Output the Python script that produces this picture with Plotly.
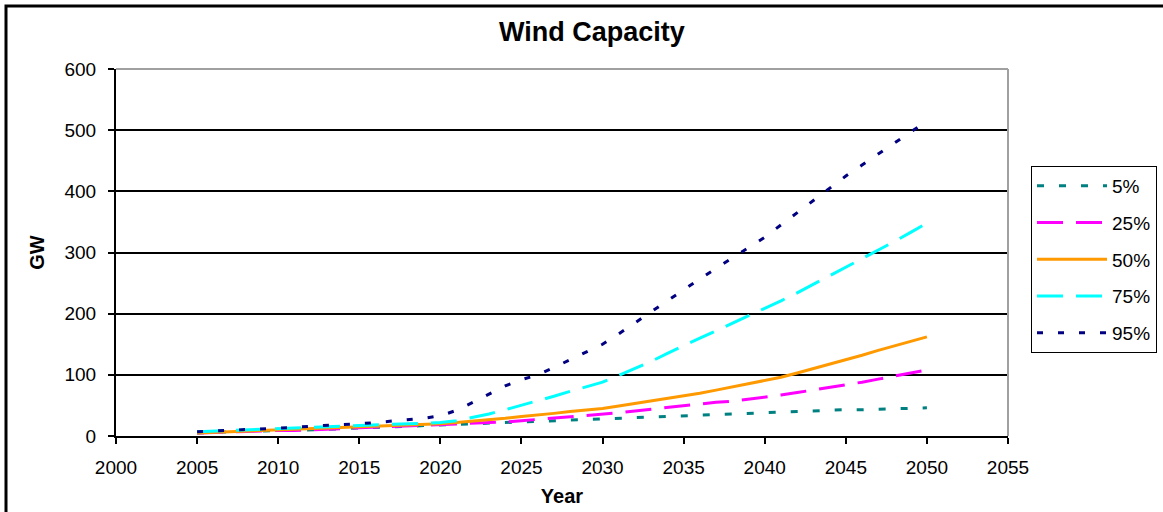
import plotly.graph_objects as go

years = list(range(2005, 2051))

p5 = [5, 6, 6, 7, 8, 9, 9, 10, 11, 11, 12, 13, 14, 15, 16, 17, 18, 19, 20, 21,
      22, 23, 24, 25, 27, 28, 29, 30, 31, 32, 33, 34, 35, 36, 37, 38, 39, 40, 41, 42,
      43, 43, 44, 45, 45, 46]
p25 = [5, 6, 6, 7, 8, 9, 9, 10, 11, 12, 13, 14, 15, 16, 17, 18, 19, 20, 22, 23,
       25, 27, 29, 31, 33, 35, 38, 41, 44, 47, 50, 52, 55, 57, 60, 63, 67, 71, 75, 79,
       83, 88, 93, 98, 103, 108]
p50 = [5, 6, 7, 8, 8, 9, 10, 11, 12, 13, 14, 15, 16, 17, 18, 20, 22, 24, 26, 29,
       32, 34, 37, 40, 42, 45, 49, 53, 57, 61, 65, 70, 75, 80, 85, 90, 96, 103, 110, 118,
       125, 132, 140, 147, 155, 162]
p75 = [7, 8, 9, 10, 11, 12, 13, 14, 15, 16, 17, 18, 19, 20, 21, 22, 25, 30, 36, 43,
       50, 57, 65, 73, 80, 88, 99, 110, 122, 135, 148, 160, 172, 184, 196, 208, 221, 234, 248, 261,
       275, 289, 303, 318, 333, 348]
p95 = [7, 8, 9, 11, 12, 13, 14, 16, 17, 19, 20, 22, 24, 26, 29, 33, 42, 55, 68, 82,
       92, 100, 112, 125, 138, 150, 167, 185, 203, 222, 240, 257, 274, 291, 308, 325, 345, 365, 385, 405,
       425, 443, 461, 479, 497, 515]

series_names = ["5%", "25%", "50%", "75%", "95%"]
series_values = [p5, p25, p50, p75, p95]
colors = ["#008080", "#FF00FF", "#FF9900", "#00FFFF", "#000080"]
dashes = ["7px,15px", "26px,13px", "solid", "26px,13px", "6px,15px"]

x_ticks = list(range(2000, 2056, 5))
y_ticks = list(range(0, 601, 100))

FONT = "Liberation Sans, Arial, sans-serif"

fig = go.Figure()
for name, vals, col, dash in zip(series_names, series_values, colors, dashes):
    fig.add_trace(go.Scatter(
        x=years, y=vals, name=name, mode="lines", legendgroup=name,
        line=dict(color=col, width=3, dash=dash),
    ))

W, H = 1163, 512
L, R, T, B = 116, 1008, 69, 436
pw, ph = R - L, B - T

def px_x(v):
    return (v - L) / pw

def px_y(v):
    return (B - v) / ph

fig.update_layout(
    width=W, height=H,
    margin=dict(l=L, r=W - R, t=T, b=H - B, autoexpand=False),
    paper_bgcolor="white", plot_bgcolor="white",
    font=dict(family=FONT, size=19, color="black"),
    title=dict(text="<b>Wind Capacity</b>", x=592 / W, xanchor="center",
               y=1 - 32 / H, yanchor="middle",
               font=dict(family=FONT, size=27, color="black")),
    xaxis=dict(range=[2000, 2055], tickvals=x_ticks, ticks="outside", ticklen=6,
               tickwidth=2, tickcolor="black", showline=True, linecolor="black",
               linewidth=2, showgrid=False, zeroline=False, ticklabelstandoff=7,
               title=dict(text="<b>Year</b>", font=dict(size=20), standoff=12)),
    yaxis=dict(range=[0, 600], tickvals=y_ticks, ticks="outside", ticklen=6,
               tickwidth=2, tickcolor="black", showline=True, linecolor="black",
               linewidth=2, showgrid=True, gridcolor="black", gridwidth=1.5,
               zeroline=False, ticklabelstandoff=8,
               title=dict(text="<b>GW</b>", font=dict(size=20), standoff=14)),
    legend=dict(x=px_x(1031), xanchor="left", y=px_y(166), yanchor="top",
                bgcolor="white", bordercolor="black", borderwidth=1,
                font=dict(size=19), tracegroupgap=9, traceorder="grouped",
                itemwidth=70),
    showlegend=True,
)

# plot-area border (top & right in gray), outer chart frame
fig.add_shape(type="line", xref="paper", yref="paper", x0=0, x1=1, y0=1, y1=1,
              line=dict(color="#A0A0A0", width=2), layer="above")
fig.add_shape(type="line", xref="paper", yref="paper", x0=1, x1=1, y0=0, y1=1,
              line=dict(color="#A0A0A0", width=2), layer="above")
fig.add_shape(type="rect", xref="paper", yref="paper",
              x0=px_x(6), x1=px_x(1180), y0=px_y(530), y1=px_y(6),
              line=dict(color="black", width=3), fillcolor="rgba(0,0,0,0)", layer="above")

fig.write_html("out.html", config={"displayModeBar": False},
               post_script="document.body.style.margin='0';document.body.style.overflow='hidden';")
